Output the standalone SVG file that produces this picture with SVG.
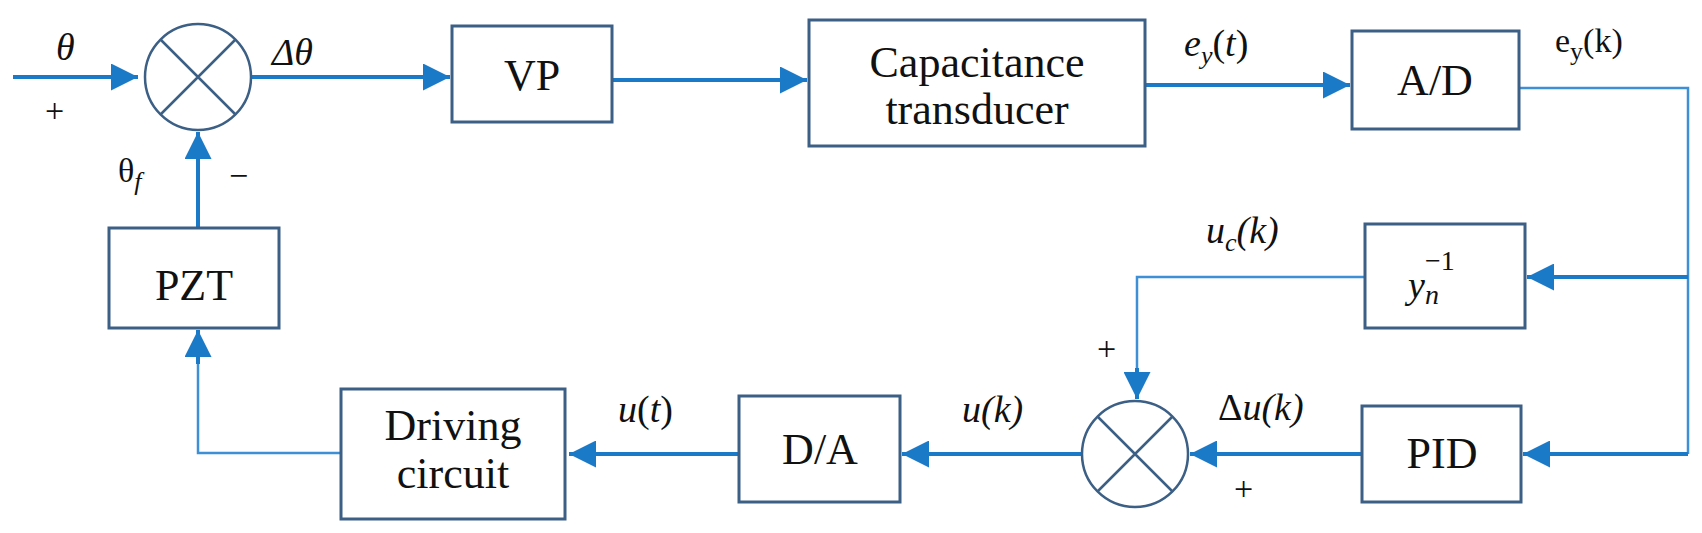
<svg xmlns="http://www.w3.org/2000/svg" width="1702" height="533" viewBox="0 0 1702 533">
<style>
.box{fill:#fff;stroke:#3c5f85;stroke-width:3}
.sum{fill:#fff;stroke:#3c5f85;stroke-width:2.5}
.t{font-family:"Liberation Serif",serif;font-size:44px;fill:#111;text-anchor:middle}
.l{font-family:"Liberation Serif",serif;font-size:38px;fill:#111;font-style:italic}
.s{font-family:"Liberation Serif",serif;font-size:34px;fill:#111}
.w{fill:none;stroke:#1a7ac8;stroke-width:4}
.n{fill:none;stroke:#3d8fd6;stroke-width:2.5}
</style>
<defs>
<marker id="b" viewBox="0 0 10 10" refX="10" refY="5" markerWidth="27" markerHeight="27" markerUnits="userSpaceOnUse" orient="auto"><path d="M0,0L10,5L0,10z" fill="#1a7ac8"/></marker>
</defs>
<g id="connectors">
<path class="w" d="M13,77H138" marker-end="url(#b)"/>
<path class="w" d="M252,77H450" marker-end="url(#b)"/>
<path class="w" d="M612,80H807" marker-end="url(#b)"/>
<path class="w" d="M1144,85H1350" marker-end="url(#b)"/>
<path class="n" d="M1519,88H1688V454"/>
<path class="w" d="M1688,277H1527" marker-end="url(#b)"/>
<path class="w" d="M1688,454H1523" marker-end="url(#b)"/>
<path class="n" d="M1365,277H1137V370"/>
<path class="w" d="M1137,368V399" marker-end="url(#b)"/>
<path class="w" d="M1362,454H1190" marker-end="url(#b)"/>
<path class="w" d="M1081,454H902" marker-end="url(#b)"/>
<path class="w" d="M739,454H569" marker-end="url(#b)"/>
<path class="n" d="M341,453H198V362"/>
<path class="w" d="M198,364V330" marker-end="url(#b)"/>
<path class="w" d="M198,228V132" marker-end="url(#b)"/>
</g>
<g id="sum1"><circle class="sum" cx="198" cy="77" r="53"/><path class="sum" d="M160.5,39.5L235.5,114.5M235.5,39.5L160.5,114.5"/></g>
<g id="sum2"><circle class="sum" cx="1135" cy="454" r="53"/><path class="sum" d="M1097.5,416.5L1172.5,491.5M1172.5,416.5L1097.5,491.5"/></g>
<g id="vp"><rect class="box" x="452" y="26" width="160" height="96"/><text class="t" x="532" y="90">VP</text></g>
<g id="cap"><rect class="box" x="809" y="20" width="336" height="126"/><text class="t" x="977" y="77">Capacitance</text><text class="t" x="977" y="124">transducer</text></g>
<g id="ad"><rect class="box" x="1352" y="31" width="167" height="98"/><text class="t" x="1435" y="95">A/D</text></g>
<g id="yn"><rect class="box" x="1365" y="224" width="160" height="104"/><text class="l" x="1408" y="298" font-size="42">y<tspan font-size="28" dy="6">n</tspan><tspan font-size="28" dx="-14" dy="-34" font-style="normal">−1</tspan></text></g>
<g id="pid"><rect class="box" x="1362" y="406" width="159" height="96"/><text class="t" x="1442" y="468">PID</text></g>
<g id="da"><rect class="box" x="739" y="396" width="161" height="106"/><text class="t" x="820" y="464">D/A</text></g>
<g id="drv"><rect class="box" x="341" y="389" width="224" height="130"/><text class="t" x="453" y="440">Driving</text><text class="t" x="453" y="488">circuit</text></g>
<g id="pzt"><rect class="box" x="109" y="228" width="170" height="100"/><text class="t" x="194" y="300">PZT</text></g>
<g id="labels">
<text class="l" x="56" y="60">θ</text>
<text class="s" x="45" y="122">+</text>
<text class="l" x="272" y="65">Δθ</text>
<text class="s" x="118" y="182" font-size="38">θ<tspan font-size="26" dy="8" font-style="italic">f</tspan></text>
<text class="s" x="229" y="187">−</text>
<text class="l" x="1184" y="56">e<tspan font-size="26" dy="8">y</tspan><tspan dy="-8" font-style="normal">(</tspan>t<tspan font-style="normal">)</tspan></text>
<text class="s" x="1555" y="52" font-size="38">e<tspan font-size="26" dy="8">y</tspan><tspan dy="-8">(k)</tspan></text>
<text class="l" x="1206" y="243">u<tspan font-size="26" dy="8">c</tspan><tspan dy="-8">(k)</tspan></text>
<text class="s" x="1097" y="360">+</text>
<text class="l" x="1218" y="420"><tspan font-style="normal">Δ</tspan>u(k)</text>
<text class="s" x="1234" y="500">+</text>
<text class="l" x="962" y="422">u(k)</text>
<text class="l" x="618" y="422">u<tspan font-style="normal">(</tspan>t<tspan font-style="normal">)</tspan></text>
</g>
</svg>
